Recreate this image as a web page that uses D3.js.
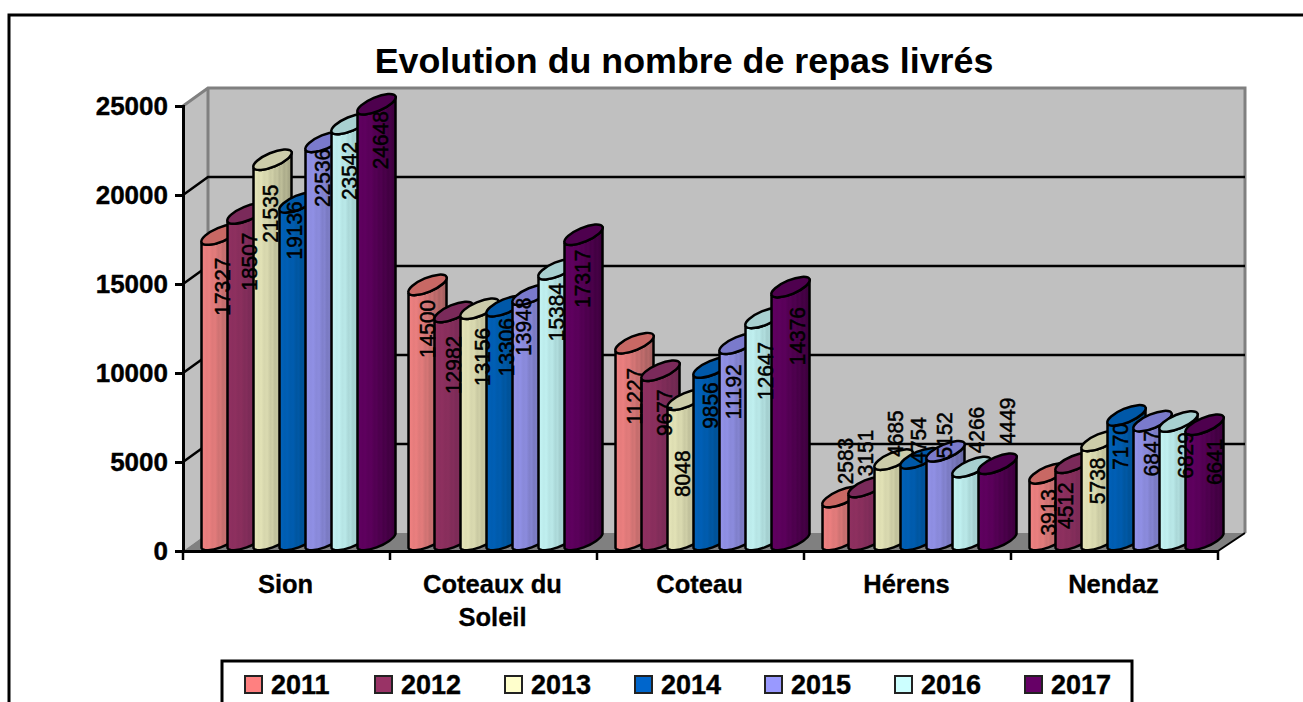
<!DOCTYPE html>
<html><head><meta charset="utf-8">
<style>html,body{margin:0;padding:0;background:#fff;overflow:hidden}svg{display:block}text{font-family:"Liberation Sans",Arial,sans-serif}</style>
<script src="https://cdn.jsdelivr.net/npm/d3@7/dist/d3.min.js"></script>
</head><body><div id="chart"></div>
<script>
const categories = ["Sion", "Coteaux du\nSoleil", "Coteau", "Hérens", "Nendaz"];
const years = ["2011","2012","2013","2014","2015","2016","2017"];
const v2011 = [17327, 14500, 11227, 2583, 3913];
const v2012 = [18507, 12982, 9677, 3151, 4512];
const v2013 = [21535, 13156, 8048, 4685, 5738];
const v2014 = [19136, 13306, 9856, 4754, 7170];
const v2015 = [22536, 13948, 11192, 5152, 6847];
const v2016 = [23542, 15384, 12647, 4266, 6829];
const v2017 = [24648, 17317, 14376, 4449, 6641];
const seriesValues = [v2011, v2012, v2013, v2014, v2015, v2016, v2017];
const title = "Evolution du nombre de repas livrés";
const yTicks = [0, 5000, 10000, 15000, 20000, 25000];

// Appearance, kept apart from the data
const legendColors = ["#ff8080","#993366","#ffffcc","#0066cc","#9999ff","#ccffff","#660066"];
const capColors = ["#c86864","#7a2a5a","#ccccaa","#0058a8","#7a7acc","#a8d0d0","#4e004e"];
const bodyLeft = ["#ee8080","#8f3060","#e4e4b8","#0060b8","#9292e8","#c2f2f2","#600060"];
const bodyRight = ["#a46060","#6e2850","#a6a686","#004880","#6868a4","#8cb4b4","#3e003e"];
// shading bands across a cylinder: [offset, mix from left colour to right colour]
const bands = [[0,0.1],[0.06,0],[0.14,0.12],[0.2,0.04],[0.28,0.22],[0.36,0.16],[0.44,0.42],[0.5,0.34],[0.56,0.58],[0.62,0.48],[0.68,0.74],[0.74,0.62],[0.8,0.9],[0.86,0.76],[0.93,1],[1,0.9]];
// label nudges (px) per category / series: the source chart placed each one by hand
const labelDx = [[21,22,17,15,17,18,23],[19,19,22,20,11,18,18],[19,23,15,17,14,20,26],[23,17,21,18,18,24,29],[19,10,16,13,18,26,29]];
const labelDy = [[44,40,46,20,28,39,28],[36,45,40,33,24,35,36],[45,34,66,30,40,45,41],[-44,-42,-34,-26,-24,-45,-51],[31,35,32,23,24,26,29]];

const W = 1303, H = 702;
const svg = d3.select("#chart").append("svg").attr("width", W).attr("height", H);
const defs = svg.append("defs");

const plot = {left:183, right:1218, top:106, bottom:551, dx:26, dy:18};
const y = d3.scaleLinear().domain([0, 25000]).range([plot.bottom, plot.top]);
const x0 = d3.scaleBand().domain(categories).range([plot.left, plot.right]);
const x1 = d3.scaleBand().domain(years).range([18.5, 200.5]);
const cylW = 38, cylRise = 16, rx = Math.hypot(cylW, cylRise)/2, ry = 7;
const rot = -Math.atan2(cylRise, cylW)*180/Math.PI;

// frame
svg.append("rect").attr("x",9).attr("y",15).attr("width",W+20).attr("height",H+20)
  .attr("fill","#fff").attr("stroke","#000").attr("stroke-width",3);
svg.append("text").attr("x",684).attr("y",73).attr("text-anchor","middle")
  .attr("font-size",35.8).attr("font-weight","bold").text(title);

// 3D box
const bx = plot.left+plot.dx-1, gy = v => y(v)-plot.dy;
svg.append("polygon").attr("fill","#c0c0c0")
  .attr("points",[[bx,gy(25000)],[plot.right+plot.dx+1,gy(25000)],[plot.right+plot.dx+1,gy(0)],[bx,gy(0)]].join(" "));
svg.append("polygon").attr("fill","#c0c0c0")
  .attr("points",[[plot.left,y(25000)],[bx,gy(25000)],[bx,gy(0)],[plot.left,y(0)]].join(" "));
svg.append("polygon").attr("fill","#808080")
  .attr("points",[[plot.left,y(0)],[bx,gy(0)],[plot.right+plot.dx+1,gy(0)],[plot.right,y(0)]].join(" "));
svg.append("path").attr("fill","none").attr("stroke","#808080").attr("stroke-width",3)
  .attr("d",`M${plot.left},${y(25000)}L${bx},${gy(25000)}L${plot.right+plot.dx+1},${gy(25000)}L${plot.right+plot.dx+1},${gy(0)}M${bx},${gy(25000)}L${bx},${gy(0)}`);
yTicks.filter(t=>t>0&&t<25000).forEach(t=>{
  svg.append("path").attr("fill","none").attr("stroke","#000").attr("stroke-width",2.5)
    .attr("d",`M${plot.left},${y(t)}L${bx},${gy(t)}L${plot.right+plot.dx+1},${gy(t)}`);
});
svg.append("path").attr("fill","none").attr("stroke","#000").attr("stroke-width",2)
  .attr("d",`M${plot.right},${y(0)}L${plot.right+plot.dx+1},${gy(0)}`);

// gradients
years.forEach((yr,i)=>{
  const g = defs.append("linearGradient").attr("id","g"+yr).attr("x1",0).attr("x2",1).attr("y1",0).attr("y2",0);
  const mix = d3.interpolateRgb(bodyLeft[i], bodyRight[i]);
  bands.forEach(([o,t])=>g.append("stop").attr("offset",o).attr("stop-color",mix(t)));
});

// cylinders
categories.forEach((c,ci)=>{
  const grp = svg.append("g").attr("transform",`translate(${x0(c)},0)`);
  years.forEach((yr,si)=>{
    const v = seriesValues[si][ci], l = x1(yr), r = l+cylW, t = y(v), b = y(0)-3;
    grp.append("path").attr("fill",`url(#g${yr})`).attr("stroke","#000").attr("stroke-width",2.5)
      .attr("d",`M${l},${t}L${l},${b}A${rx},${ry} ${rot} 0 0 ${r},${b-cylRise+2}L${r},${t-cylRise}A${rx},${ry} ${rot} 0 1 ${l},${t}Z`);
    grp.append("ellipse").attr("fill",capColors[si]).attr("stroke","#000").attr("stroke-width",2.5)
      .attr("rx",rx).attr("ry",ry)
      .attr("transform",`translate(${(l+r)/2},${t-cylRise/2}) rotate(${rot})`);
  });
});
categories.forEach((c,ci)=>{
  years.forEach((yr,si)=>{
    const v = seriesValues[si][ci];
    svg.append("text").attr("font-size",22.5).attr("text-anchor","middle").attr("dy","0.36em")
      .attr("stroke","#000").attr("stroke-width",0.5)
      .attr("transform",`translate(${x0(c)+x1(yr)+labelDx[ci][si]-0.5},${y(v)+labelDy[ci][si]}) rotate(-90) scale(0.93,1)`)
      .text(v);
  });
});

// axes
const ay = svg.append("g").attr("transform",`translate(${plot.left},0)`)
  .call(d3.axisLeft(y).tickValues(yTicks).tickFormat(d3.format("d")).tickSize(8).tickPadding(7));
ay.selectAll("path,line").attr("stroke","#000").attr("stroke-width",3);
ay.selectAll("text").attr("font-size",26).attr("font-weight","bold").attr("font-family",'"Liberation Sans"').attr("fill","#000").attr("stroke","#000").attr("stroke-width",0.4);

const ax = svg.append("g").attr("transform",`translate(0,${plot.bottom})`)
  .call(d3.axisBottom(x0).tickSize(0).tickFormat(""));
ax.select("path").attr("stroke","#000").attr("stroke-width",3);
d3.range(0,6).forEach(i=>{
  const px = plot.left + i*x0.step();
  ax.append("line").attr("x1",px).attr("x2",px).attr("y1",0).attr("y2",9).attr("stroke","#000").attr("stroke-width",2.5);
});
categories.forEach(c=>{
  c.split("\n").forEach((ln,k)=>{
    svg.append("text").attr("x",x0(c)+x0.bandwidth()/2-1).attr("y",593+k*33).attr("text-anchor","middle")
      .attr("font-size",25.5).attr("font-weight","bold").attr("stroke","#000").attr("stroke-width",0.3).text(ln);
  });
});

// legend
svg.append("rect").attr("x",222).attr("y",661).attr("width",910).attr("height",80)
  .attr("fill","#fff").attr("stroke","#000").attr("stroke-width",3);
const xL = d3.scaleBand().domain(years).range([244, 244+7*130]);
years.forEach((yr,i)=>{
  svg.append("rect").attr("x",xL(yr)+1).attr("y",676).attr("width",17).attr("height",17)
    .attr("fill",legendColors[i]).attr("stroke","#222").attr("stroke-width",2);
  svg.append("text").attr("x",xL(yr)+27).attr("y",694).attr("font-size",27).attr("font-weight","bold").attr("stroke","#000").attr("stroke-width",0.4).text(yr);
});
</script></body></html>
